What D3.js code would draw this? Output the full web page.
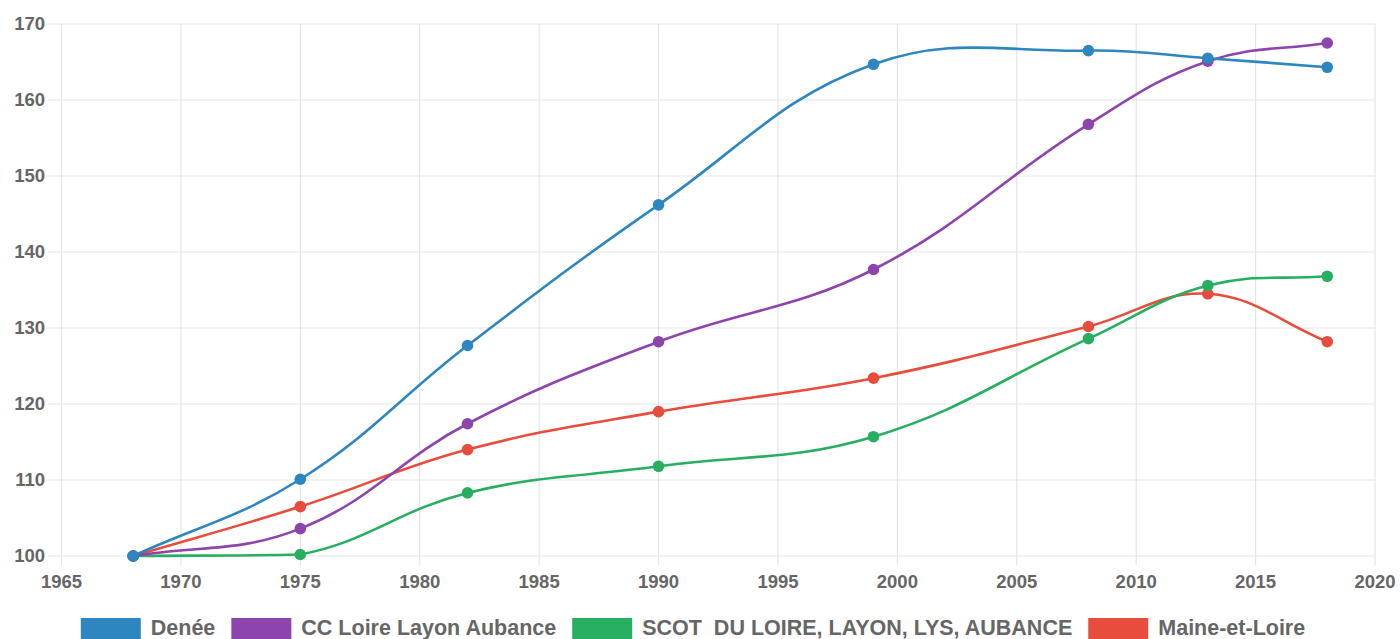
<!DOCTYPE html>
<html><head><meta charset="utf-8">
<script src="https://cdn.jsdelivr.net/npm/d3@7"></script>
<style>
html,body{margin:0;padding:0;background:#fff;overflow:hidden;}
text{font-family:"Liberation Sans",Arial,Helvetica,sans-serif;font-weight:bold;fill:#666;}
</style></head>
<body><svg id="c" width="1400" height="639"></svg>
<script>
const years = [1968, 1975, 1982, 1990, 1999, 2008, 2013, 2018];
const seriesNames = ["Denée", "CC Loire Layon Aubance", "SCOT  DU LOIRE, LAYON, LYS, AUBANCE", "Maine-et-Loire"];
const denee = [100, 110.1, 127.7, 146.2, 164.7, 166.5, 165.5, 164.3];
const ccLoire = [100, 103.6, 117.4, 128.2, 137.7, 156.8, 165.1, 167.5];
const scot = [100, 100.2, 108.3, 111.8, 115.7, 128.6, 135.6, 136.8];
const maine = [100, 106.5, 114.0, 119.0, 123.4, 130.2, 134.5, 128.2];
const colors = ["#2e86c1", "#8e44ad", "#27ae60", "#e74c3c"];
const xTicks = [1965, 1970, 1975, 1980, 1985, 1990, 1995, 2000, 2005, 2010, 2015, 2020];
const yTicks = [100, 110, 120, 130, 140, 150, 160, 170];

const allSeries = [denee, ccLoire, scot, maine];
const svg = d3.select("#c");
const L = 61.5, R = 1375, T = 24, B = 556;
const x = d3.scaleLinear().domain([1965, 2020]).range([L, R]);
const y = d3.scaleLinear().domain([100, 170]).range([B, T]);
const grid = "#e5e5e5";

// grid
const g = svg.append("g");
g.selectAll("line.h").data(yTicks).join("line")
  .attr("x1", L - 14).attr("x2", R).attr("y1", d => y(d)).attr("y2", d => y(d))
  .attr("stroke", grid).attr("stroke-width", 1.2);
g.selectAll("line.v").data(xTicks).join("line")
  .attr("y1", T).attr("y2", B + 9).attr("x1", d => x(d)).attr("x2", d => x(d))
  .attr("stroke", grid).attr("stroke-width", 1.2);

// axis labels
svg.append("g").selectAll("text").data(yTicks).join("text")
  .attr("x", 45).attr("y", d => y(d)).attr("dy", "0.35em")
  .attr("text-anchor", "end").attr("font-size", 18.5).text(d => d);
svg.append("g").selectAll("text").data(xTicks).join("text")
  .attr("x", d => x(d)).attr("y", 582).attr("dy", "0.35em")
  .attr("text-anchor", "middle").attr("font-size", 18.5).text(d => d);

// Chart.js-like spline (tension 0.4), control points capped to chart area
function splinePath(pts, t) {
  const p = d3.path();
  const n = pts.length;
  const cap = v => [Math.max(L, Math.min(R, v[0])), Math.max(T, Math.min(B, v[1]))];
  const cps = pts.map((cur, i) => {
    const prev = pts[Math.max(0, i - 1)], next = pts[Math.min(n - 1, i + 1)];
    const d01 = Math.hypot(cur[0] - prev[0], cur[1] - prev[1]);
    const d12 = Math.hypot(next[0] - cur[0], next[1] - cur[1]);
    let s01 = d01 / (d01 + d12), s12 = d12 / (d01 + d12);
    s01 = isNaN(s01) ? 0 : s01; s12 = isNaN(s12) ? 0 : s12;
    const fa = t * s01, fb = t * s12;
    return {
      prev: cap([cur[0] - fa * (next[0] - prev[0]), cur[1] - fa * (next[1] - prev[1])]),
      next: cap([cur[0] + fb * (next[0] - prev[0]), cur[1] + fb * (next[1] - prev[1])])
    };
  });
  p.moveTo(pts[0][0], pts[0][1]);
  for (let i = 1; i < n; i++) {
    const a = cps[i - 1].next, b = cps[i].prev;
    p.bezierCurveTo(a[0], a[1], b[0], b[1], pts[i][0], pts[i][1]);
  }
  return p.toString();
}

const order = [3, 2, 1, 0];
order.forEach(si => {
  const vals = allSeries[si];
  const pts = years.map((yr, i) => [x(yr), y(vals[i])]);
  svg.append("path").attr("d", splinePath(pts, 0.4))
    .attr("fill", "none").attr("stroke", colors[si]).attr("stroke-width", 2.6);
});
order.forEach(si => {
  const vals = allSeries[si];
  svg.append("g").selectAll("circle").data(years).join("circle")
    .attr("cx", d => x(d)).attr("cy", (d, i) => y(vals[i])).attr("r", 5.8)
    .attr("fill", colors[si]);
});

// legend
const leg = svg.append("g");
const items = leg.selectAll("g").data(seriesNames).join("g");
items.append("rect").attr("width", 60).attr("height", 22).attr("y", 618)
  .attr("fill", (d, i) => colors[i]);
items.append("text").attr("y", 627).attr("dy", "0.35em").attr("font-size", 21.5)
  .style("white-space", "pre").text(d => d);
let cx = 0;
const pos = [];
items.each(function (d, i) {
  const w = d3.select(this).select("text").node().getComputedTextLength();
  pos.push(cx);
  cx += 60 + 10 + w + 16;
});
const total = cx - 16;
const start = 693 - total / 2;
items.each(function (d, i) {
  const s = d3.select(this);
  s.select("rect").attr("x", start + pos[i]);
  s.select("text").attr("x", start + pos[i] + 70);
});
</script></body></html>
